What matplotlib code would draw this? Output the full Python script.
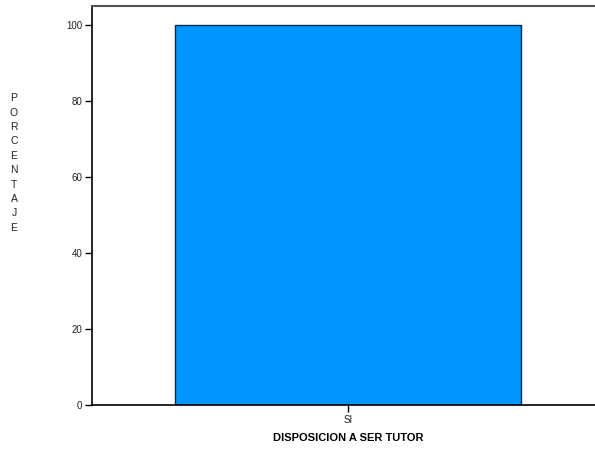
import matplotlib
matplotlib.use("Agg")
import matplotlib.pyplot as plt

categories = ["SI"]
values = [100]
yticks = [0, 20, 40, 60, 80, 100]

plt.rcParams['font.family'] = ['Liberation Sans', 'DejaVu Sans']

fig = plt.figure(figsize=(5.95, 4.5), dpi=100)
ax = fig.add_axes([92/595, 45/450, 512/595, 399.5/450])

x = list(range(len(categories)))
ax.bar(x, values, width=0.674, color="#0096FF", edgecolor="#0a2a4a", linewidth=1.0, zorder=2)

ax.set_xlim(-0.5, 0.5)
ax.set_ylim(0, 105.1)
ax.set_xticks(x)
ax.set_xticklabels(categories, fontsize=7, color='#222222')
ax.set_yticks(yticks)
ax.set_yticklabels([str(v) for v in yticks], fontsize=7, color='#222222')
ax.tick_params(axis='both', direction='out', length=5, width=1, color='black', pad=2)

ax.spines['right'].set_visible(False)
ax.spines['top'].set_color('#555555')
ax.spines['top'].set_linewidth(1.5)
ax.spines['left'].set_linewidth(1.2)
ax.spines['bottom'].set_linewidth(1.2)

ax.set_xlabel("DISPOSICION A SER TUTOR", fontsize=8, fontweight='bold')
ax.xaxis.set_label_coords((348 - 92) / 512, -0.07)

fig.text(14/595, 1 - 163/450, "\n".join("PORCENTAJE"), fontsize=7.5, ha='center', va='center',
         linespacing=1.55, color='#222222')

fig.savefig("out.png", dpi=100)
